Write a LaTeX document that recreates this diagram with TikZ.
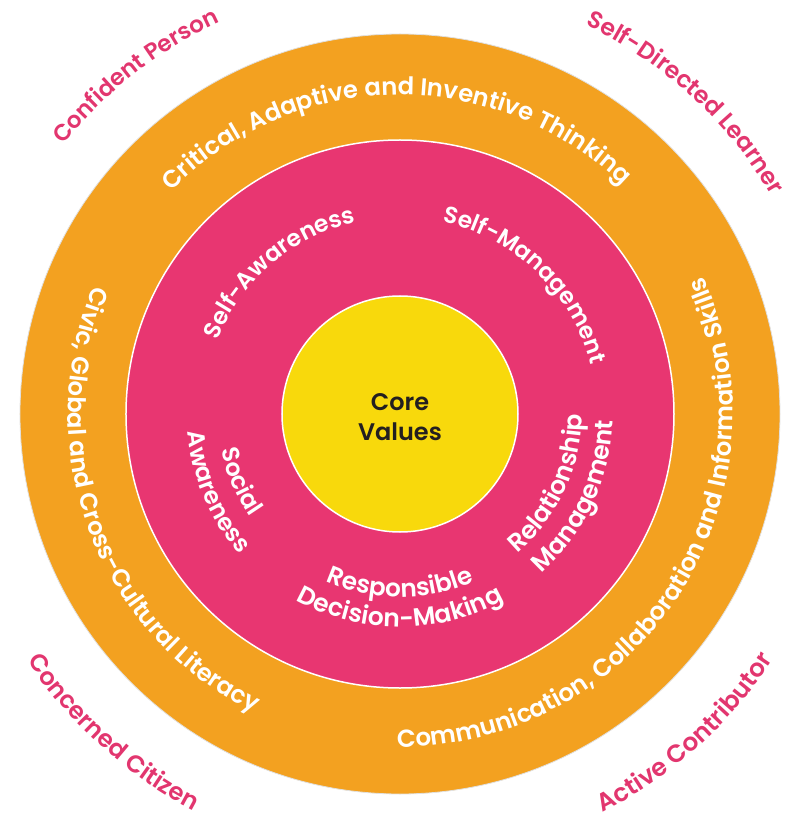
\documentclass[tikz,border=0pt]{standalone}
\usepackage{fontspec}
\setmainfont{Poppins}[BoldFont={Poppins SemiBold}]
\usetikzlibrary{decorations.text}
\definecolor{ringorange}{HTML}{F3A120}
\definecolor{ringpink}{HTML}{E83671}
\definecolor{coreyellow}{HTML}{F8D90C}
\definecolor{labelpink}{HTML}{E2366F}
\definecolor{coretext}{HTML}{231F20}
\newcommand\rfont[1]{\fontsize{#1}{#1}\selectfont\bfseries}
% #1 centre angle, #2 baseline radius, #3 half span, #4 colour, #5 font size, #6 text
\newcommand\cwlabel[6]{%
  \path[decorate,decoration={text along path,text align=center,text color=#4,text={|\rfont{#5}|#6}}]
    (#1+#3:#2pt) arc[start angle=#1+#3,end angle=#1-#3,radius=#2pt];}
\newcommand\ccwlabel[6]{%
  \path[decorate,decoration={text along path,text align=center,text color=#4,text={|\rfont{#5}|#6}}]
    (#1-#3:#2pt) arc[start angle=#1-#3,end angle=#1+#3,radius=#2pt];}
\tikzset{ring/.style={circle,inner sep=0pt,draw=white,line width=1.5pt}}
\begin{document}
\begin{tikzpicture}
\useasboundingbox (-400pt,-403pt) rectangle (394pt,414pt);
\node[ring,minimum size=760pt,fill=ringorange,draw=black!12,line width=0.8pt] (outer) at (0,0) {};
\node[ring,minimum size=548pt,fill=ringpink] (middle) at (0,0) {};
\node[ring,minimum size=236pt,fill=coreyellow] (inner) at (0,0) {};
\node[align=center,text=coretext,font=\fontsize{24}{30}\selectfont\bfseries] (core) at (0,-3pt) {Core\\Values};
% outer labels
\cwlabel{128}{431}{45}{labelpink}{23}{Confident Person}
\cwlabel{47.5}{431}{45}{labelpink}{23.7}{Self-Directed Learner}
\ccwlabel{228}{447}{45}{labelpink}{24.2}{Concerned Citizen}
\ccwlabel{311.8}{447}{45}{labelpink}{24.8}{Active Contributor}
% orange ring
\cwlabel{90.75}{319}{75}{white}{24.3}{Critical, Adaptive and Inventive Thinking}
\ccwlabel{200.6}{332}{75}{white}{24.3}{Civic, Global and Cross-Cultural Literacy}
\ccwlabel{327}{333}{80}{white}{24.6}{Communication, Collaboration and Information Skills}
% pink ring
\cwlabel{130.5}{197}{60}{white}{23.5}{Self-Awareness}
\cwlabel{46}{197}{60}{white}{23.2}{Self-Management}
\ccwlabel{203}{182}{60}{white}{24}{Social}
\ccwlabel{203}{213}{60}{white}{24}{Awareness}
\ccwlabel{335}{182}{60}{white}{25}{Relationship}
\ccwlabel{335}{213}{60}{white}{25}{Management}
\ccwlabel{270}{183}{60}{white}{24.8}{Responsible}
\ccwlabel{270}{213}{60}{white}{25}{Decision-Making}
\end{tikzpicture}
\end{document}
